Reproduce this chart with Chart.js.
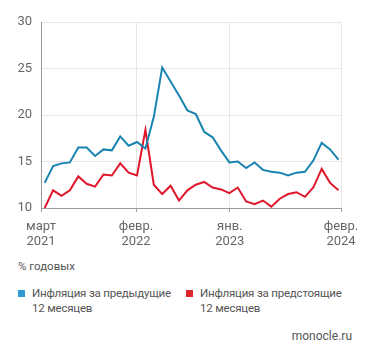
<!DOCTYPE html>
<html lang="ru">
<head>
    <meta charset="UTF-8">
    <title>Инфляционные ожидания</title>
    <script src="https://cdn.jsdelivr.net/npm/chart.js"></script>
    <style>
        body { margin: 0; background: #fff; font-family: Roboto, sans-serif; color: #555; }
        #wrap { position: relative; width: 371px; height: 358px; }
        #chart-box { position: absolute; left: 0; top: 0; width: 371px; height: 250px; }
        .note { position: absolute; font-size: 11.5px; color: #555; }
        .legend-item { position: absolute; font-size: 11.5px; letter-spacing: -0.2px; line-height: 15px; color: #555; }
        .legend-item span.box { position: absolute; left: -14px; top: 4px; width: 7px; height: 7px; }
    </style>
</head>
<body>
<div id="wrap">
    <div id="chart-box"><canvas id="chart"></canvas></div>
    <div class="note" style="left:18px; top:259px;">% годовых</div>
    <div class="legend-item" style="left:32px; top:286px;"><span class="box" style="background:#2b9bd1"></span>Инфляция за предыдущие<br>12 месяцев</div>
    <div class="legend-item" style="left:200px; top:286px;"><span class="box" style="background:#d9252c"></span>Инфляция за предстоящие<br>12 месяцев</div>
    <div class="note" style="right:19px; top:329px; font-size:12px;">monocle.ru</div>
</div>

<script>
// months from March 2021 to February 2024
var months = [
    '2021-03', '2021-04', '2021-05', '2021-06', '2021-07', '2021-08', '2021-09', '2021-10', '2021-11', '2021-12',
    '2022-01', '2022-02', '2022-03', '2022-04', '2022-05', '2022-06', '2022-07', '2022-08', '2022-09', '2022-10',
    '2022-11', '2022-12', '2023-01', '2023-02', '2023-03', '2023-04', '2023-05', '2023-06', '2023-07', '2023-08',
    '2023-09', '2023-10', '2023-11', '2023-12', '2024-01', '2024-02'
];

// inflation over the previous 12 months, %
var pastInflation = [
    12.7, 14.5, 14.8, 14.9, 16.5, 16.5, 15.6, 16.3, 16.2, 17.7,
    16.7, 17.1, 16.4, 19.8, 25.1, 23.6, 22.1, 20.5, 20.1, 18.2,
    17.6, 16.2, 14.9, 15.0, 14.3, 14.9, 14.1, 13.9, 13.8, 13.5,
    13.8, 13.9, 15.1, 17.0, 16.3, 15.2
];

// expected inflation for the next 12 months, %
var expectedInflation = [
    10.0, 11.9, 11.3, 11.9, 13.4, 12.6, 12.3, 13.6, 13.5, 14.8,
    13.8, 13.5, 18.4, 12.5, 11.5, 12.4, 10.8, 11.9, 12.5, 12.8,
    12.2, 12.0, 11.6, 12.2, 10.7, 10.4, 10.8, 10.15, 11.0, 11.5,
    11.7, 11.2, 12.2, 14.2, 12.7, 11.9
];

// x-axis ticks (in month index units) and their labels
var tickMonths = [-0.44, 10.88, 22.05, 35.3];
var tickLabels = [['март', '2021'], ['февр.', '2022'], ['янв.', '2023'], ['февр.', '2024']];

var yTicks = [10, 15, 20, 25, 30];

function toPoints(values) {
    return values.map(function(v, i) { return { x: i, y: v }; });
}

var ctx = document.getElementById('chart').getContext('2d');
var chart = new Chart(ctx, {
    type: 'line',
    data: {
        labels: months,
        datasets: [{
            label: 'Инфляция за предыдущие 12 месяцев',
            data: toPoints(pastInflation),
            borderColor: '#1a84b0',
            borderWidth: 2,
            pointRadius: 0,
            tension: 0,
            fill: false
        }, {
            label: 'Инфляция за предстоящие 12 месяцев',
            data: toPoints(expectedInflation),
            borderColor: '#e0162b',
            borderWidth: 2,
            pointRadius: 0,
            tension: 0,
            fill: false
        }]
    },
    options: {
        responsive: true,
        maintainAspectRatio: false,
        animation: false,
        layout: { padding: { top: 22, right: 30, left: 0, bottom: 0 } },
        plugins: {
            legend: { display: false },
            tooltip: { enabled: false }
        },
        scales: {
            x: {
                type: 'linear',
                min: tickMonths[0],
                max: tickMonths[tickMonths.length - 1],
                afterBuildTicks: function(axis) {
                    axis.ticks = tickMonths.map(function(v) { return { value: v }; });
                },
                afterFit: function(axis) { axis.height = 42; },
                ticks: {
                    autoSkip: false,
                    maxRotation: 0,
                    padding: 8,
                    color: '#666',
                    font: { family: 'Roboto', size: 13, lineHeight: 1.1 },
                    callback: function(value, index) { return tickLabels[index]; }
                },
                grid: {
                    color: '#e6e6e6',
                    tickColor: '#a0a0a0',
                    tickLength: 4,
                    lineWidth: 1
                },
                border: { color: '#9a9a9a', width: 1 }
            },
            y: {
                min: 10,
                max: 30,
                afterBuildTicks: function(axis) {
                    axis.ticks = yTicks.map(function(v) { return { value: v }; });
                },
                afterFit: function(axis) { axis.width = 41; },
                ticks: {
                    padding: 9,
                    color: '#666',
                    font: { family: 'Roboto', size: 13 }
                },
                grid: {
                    color: '#e6e6e6',
                    drawTicks: false,
                    lineWidth: 1
                },
                border: { color: '#9a9a9a', width: 1 }
            }
        }
    }
});
</script>
</body>
</html>
